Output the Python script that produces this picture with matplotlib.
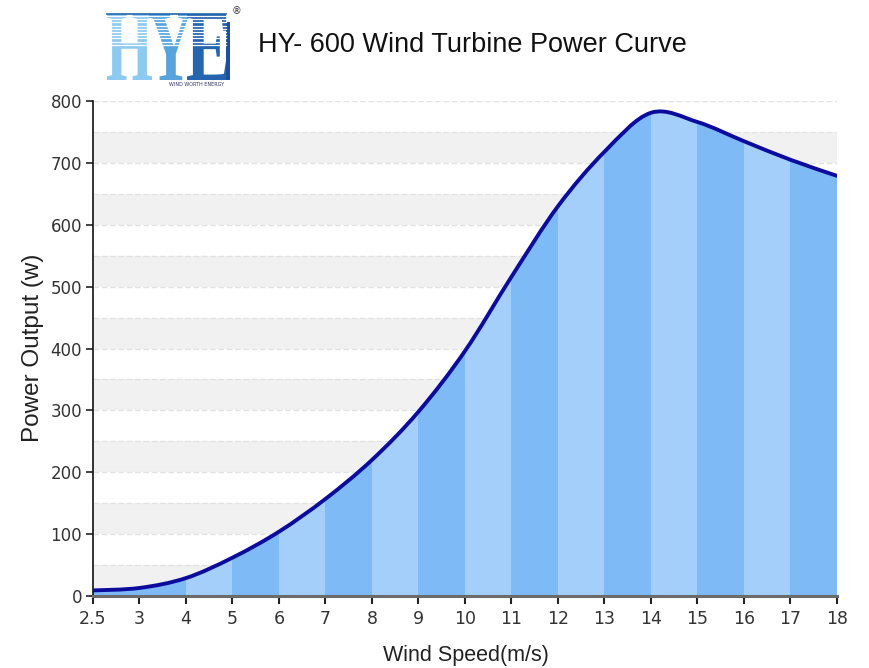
import numpy as np
import matplotlib
matplotlib.use("Agg")
import matplotlib.pyplot as plt
from matplotlib.path import Path
from matplotlib.patches import PathPatch, Rectangle
from matplotlib.textpath import TextPath
from matplotlib.font_manager import FontProperties
from matplotlib.transforms import Affine2D

# ---- data ----
wind_speed_labels = ["2.5", "3", "4", "5", "6", "7", "8", "9", "10", "11",
                     "12", "13", "14", "15", "16", "17", "18"]
power_output = [9, 13, 29, 62, 104, 157, 220, 298, 396, 516,
                630, 718, 781, 766, 735, 705, 679]
y_ticks = [0, 100, 200, 300, 400, 500, 600, 700, 800]
title_text = "HY- 600 Wind Turbine Power Curve"
x_label = "Wind Speed(m/s)"
y_label = "Power Output (w)"

W, H = 870, 668
fig = plt.figure(figsize=(W / 100, H / 100), dpi=100)
fig.patch.set_facecolor("white")

L, R, B, T = 93, 837, 596, 101
ax = fig.add_axes([L / W, 1 - B / H, (R - L) / W, (B - T) / H])
n = len(wind_speed_labels)
xs = np.arange(n, dtype=float)
ys = np.array(power_output, dtype=float)
ax.set_xlim(0, n - 1)
ax.set_ylim(0, 800)

# horizontal grey bands + dashed lines
for k in range(0, 800, 100):
    ax.axhspan(k, k + 50, color="#f1f1f1", zorder=0, lw=0)
for k in range(50, 801, 50):
    ax.axhline(k, color="#e2e2e2", lw=1, ls=(0, (4, 2)), zorder=0.5)

# smooth curve (Catmull-Rom -> cubic Bezier)
pts = np.column_stack([xs, ys])
ext = np.vstack([pts[0], pts, pts[-1]])
verts = [tuple(pts[0])]
codes = [Path.MOVETO]
for i in range(n - 1):
    p0, p1, p2, p3 = ext[i], ext[i + 1], ext[i + 2], ext[i + 3]
    c1 = p1 + (p2 - p0) / 6.0
    c2 = p2 - (p3 - p1) / 6.0
    verts += [tuple(c1), tuple(c2), tuple(p2)]
    codes += [Path.CURVE4] * 3
curve_path = Path(verts, codes)
fill_verts = verts + [(xs[-1], 0), (xs[0], 0), (xs[0], ys[0])]
fill_codes = codes + [Path.LINETO, Path.LINETO, Path.CLOSEPOLY]
fill_path = Path(fill_verts, fill_codes)

clip_patch = PathPatch(fill_path, transform=ax.transData, facecolor="none",
                       edgecolor="none")
ax.add_patch(clip_patch)
dark, light = "#7dbaf6", "#a3cffa"
for i in range(n - 1):
    col = dark if (i == 0 or i % 2 == 1) else light
    r = ax.axvspan(xs[i], xs[i + 1], color=col, lw=0, zorder=1)
    r.set_clip_path(clip_patch)

ax.add_patch(PathPatch(curve_path, facecolor="none", edgecolor="#0b0b9e",
                       lw=2.8, zorder=3, capstyle="round", joinstyle="round"))

# axes styling
for s in ["top", "right"]:
    ax.spines[s].set_visible(False)
ax.spines["left"].set_color("#111111")
ax.spines["left"].set_linewidth(1.2)
ax.spines["bottom"].set_color("#6b6b6b")
ax.spines["bottom"].set_linewidth(2.2)
ax.spines["bottom"].set_zorder(4)
ax.set_xticks(xs)
ax.set_xticklabels(wind_speed_labels)
ax.set_yticks(y_ticks)
ax.tick_params(axis="x", length=6, width=1.5, color="#222222", pad=4,
               labelsize=12.5, labelcolor="#333333")
ax.tick_params(axis="y", length=5, width=1.2, color="#222222", pad=3,
               labelsize=12, labelcolor="#333333")
for lab in ax.get_xticklabels() + ax.get_yticklabels():
    lab.set_family("DejaVu Sans")

fig.text(33 / W, 1 - 348 / H, y_label, rotation=90, ha="center", va="center",
         fontsize=17.5, family="Liberation Sans", color="#222222")
fig.text(466 / W, 1 - 655 / H, x_label, ha="center", va="center",
         fontsize=15.5, family="Liberation Sans", color="#222222")
fig.text(258 / W, 1 - 45 / H, title_text, ha="left", va="center",
         fontsize=19.5, family="Liberation Sans", color="#111111")

# logo
deco = fig.add_axes([0, 0, 1, 1], zorder=5)
deco.set_xlim(0, W)
deco.set_ylim(H, 0)
deco.axis("off")
deco.patch.set_alpha(0)
fp = FontProperties(family="Liberation Serif", weight="bold")
letters = [("H", 107, 152, "#8ecaf0"), ("Y", 149, 192, "#57a4dc"),
           ("E", 187, 229, "#2565b0")]
top, bot = 14, 80
for ch, x0, x1, col in letters:
    tp = TextPath((0, 0), ch, size=1, prop=fp)
    ext_ = tp.get_extents()
    sx = (x1 - x0) / ext_.width
    sy = (bot - top) / ext_.height
    tr = (Affine2D().translate(-ext_.x0, -ext_.y0).scale(sx, -sy)
          .translate(x0, bot) + deco.transData)
    deco.add_patch(PathPatch(tp, transform=tr, facecolor=col, edgecolor="none"))
for yy in np.arange(16, 48, 3.2):
    deco.plot([105, 226], [yy, yy], color="white", lw=0.9)
deco.add_patch(Rectangle((226, 22), 4, 58, color="#1d4f96", lw=0))
deco.plot([107, 226], [14, 14], color="#2565b0", lw=1.2)
deco.text(237, 11, "®", fontsize=7, ha="center", va="center", color="#333333")
deco.text(197, 85, "WIND WORTH ENERGY", fontsize=3.5, ha="center", va="center",
          color="#333366")

fig.savefig("out.png", dpi=100, facecolor="white")
